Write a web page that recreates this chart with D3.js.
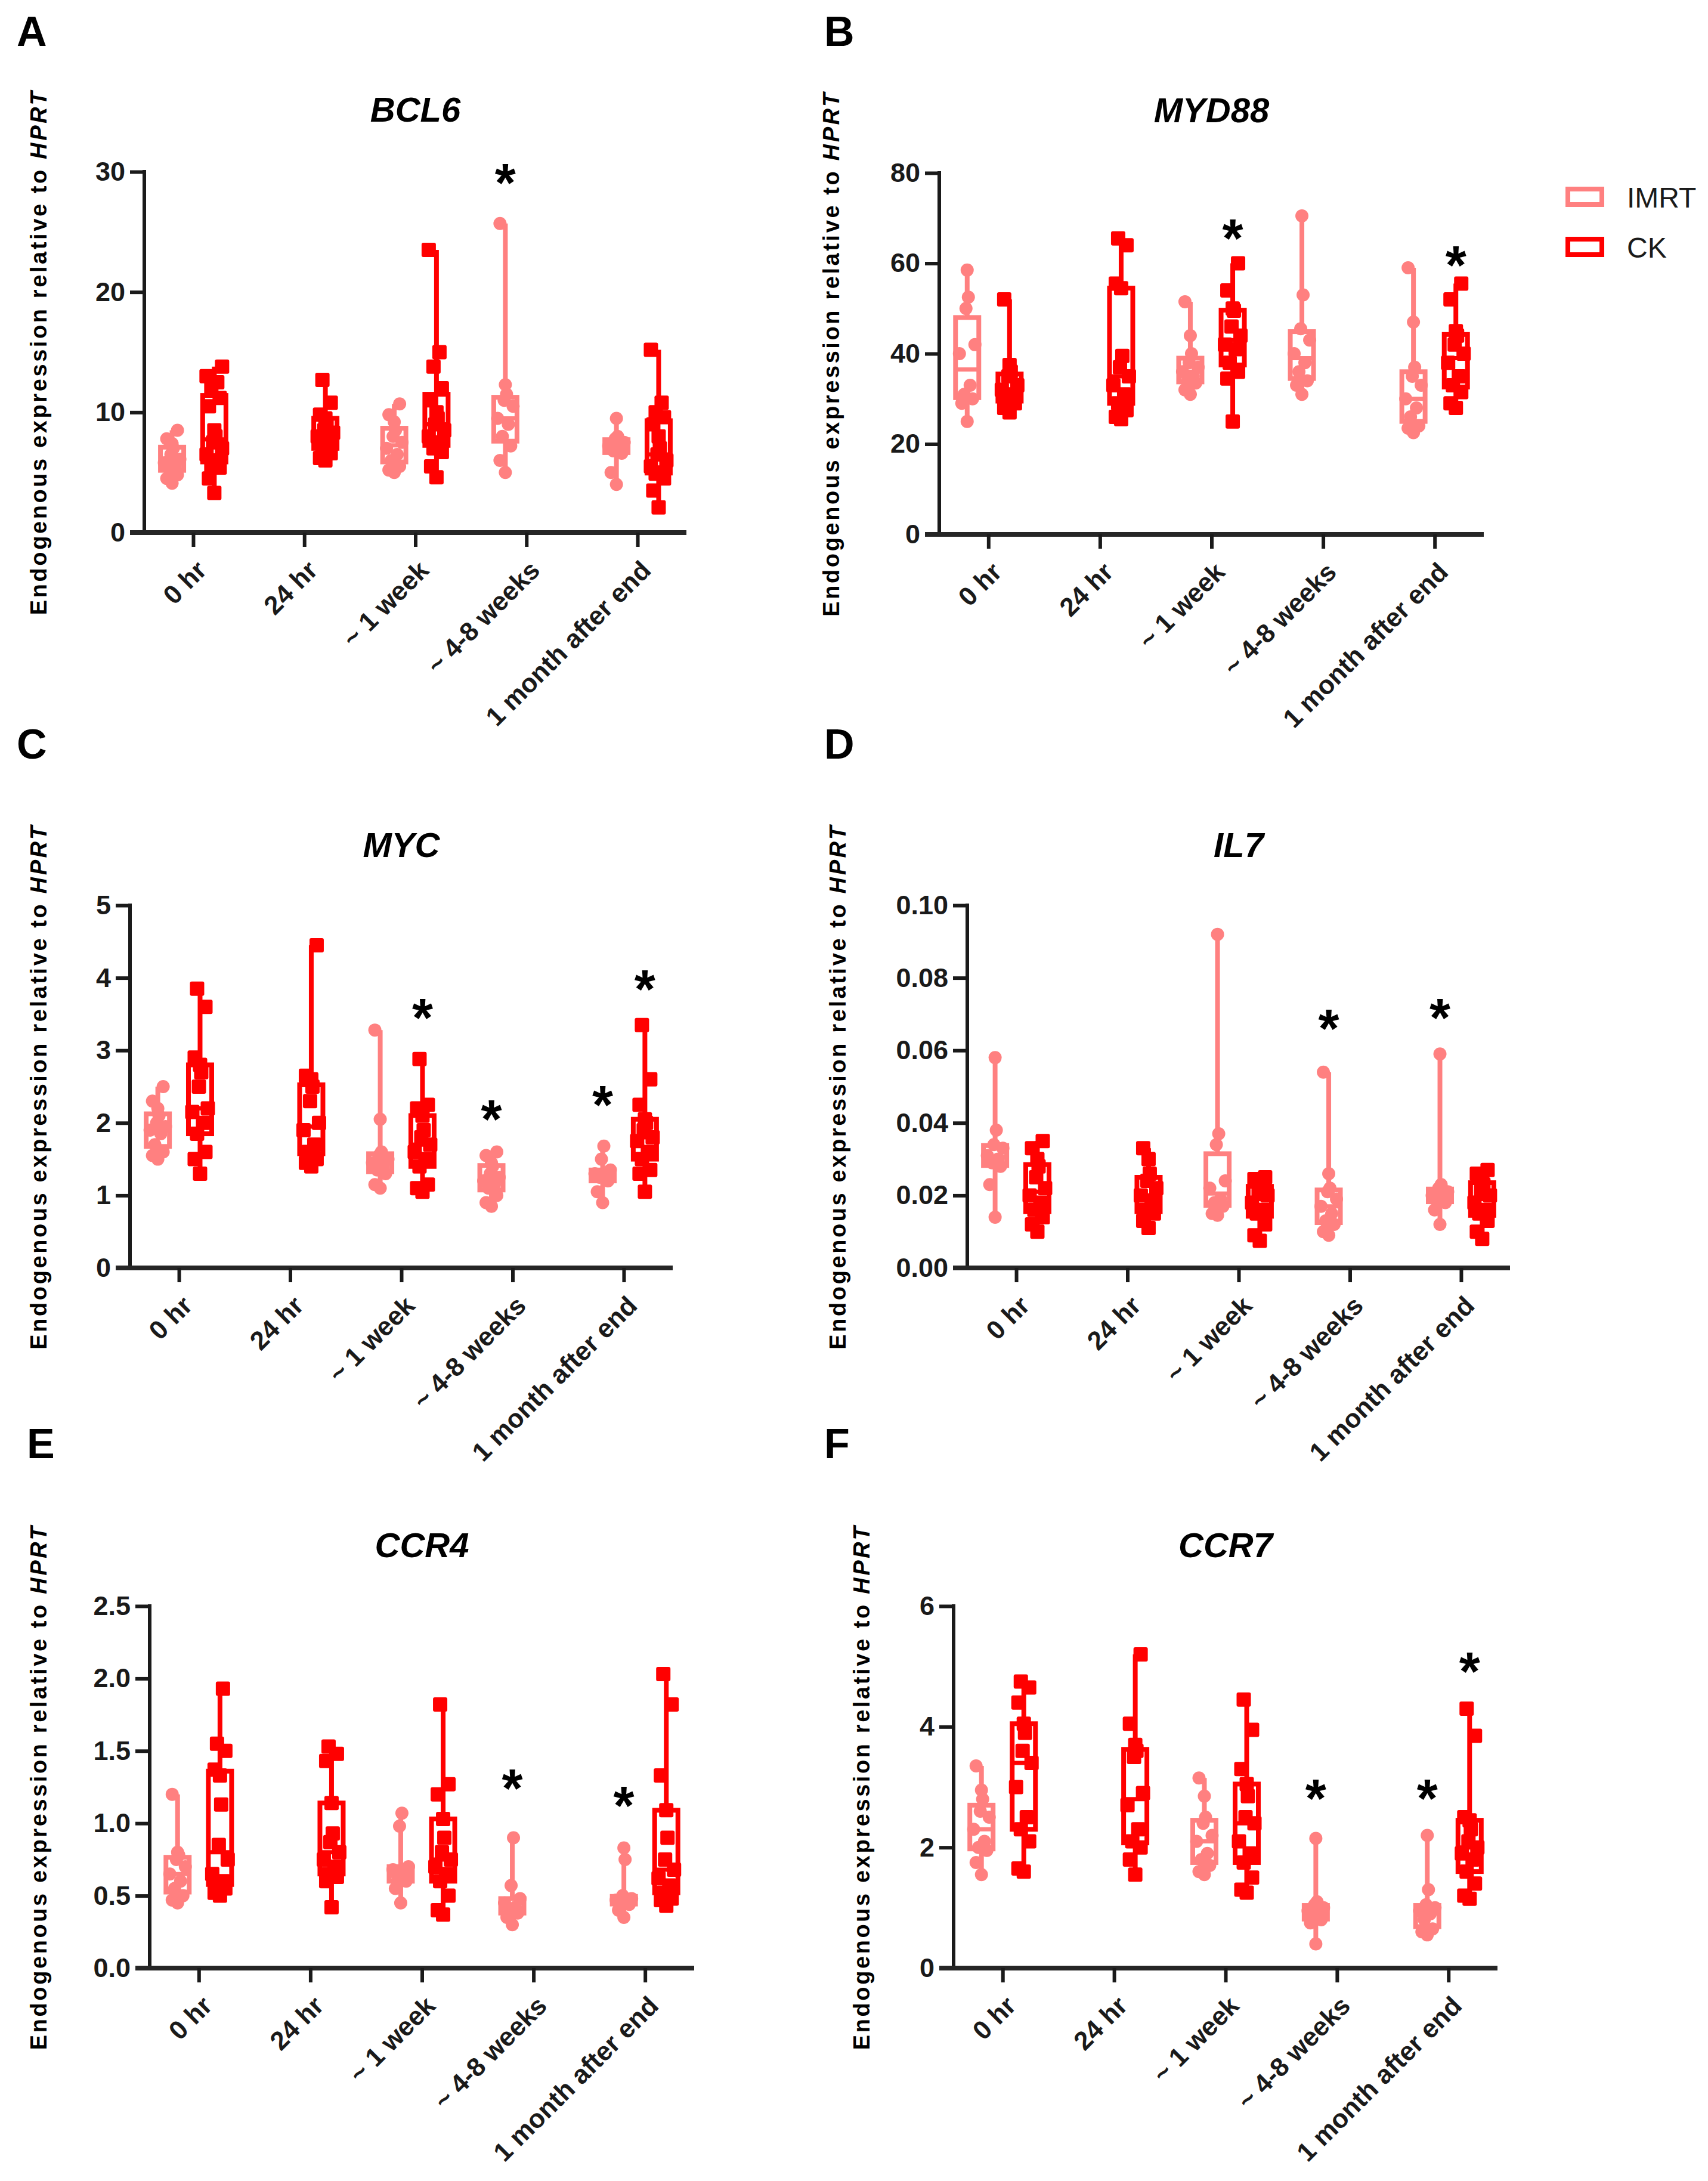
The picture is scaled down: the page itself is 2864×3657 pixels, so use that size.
<!DOCTYPE html>
<html>
<head>
<meta charset="utf-8">
<script src="https://cdn.jsdelivr.net/npm/d3@7"></script>
<style>
  body { margin: 0; background: #fff; }
  text { font-family: "Liberation Sans", Arial, sans-serif; }
</style>
</head>
<body>
<div class="chart"></div>
<script>
let width = 2864;
let height = 3657;

// categories and groups
let timepoints = ['0 hr', '24 hr', '~ 1 week', '~ 4-8 weeks', '1 month after end'];
let groups = ['IMRT', 'CK'];
let groupColors = ['#ff8080', '#ff0000'];
let genes = ['BCL6', 'MYD88', 'MYC', 'IL7', 'CCR4', 'CCR7'];
let panelLetters = ['A', 'B', 'C', 'D', 'E', 'F'];

// y ticks per gene
let bcl6Ticks = [0, 10, 20, 30];
let myd88Ticks = [0, 20, 40, 60, 80];
let mycTicks = [0, 1, 2, 3, 4, 5];
let il7Ticks = [0, 0.02, 0.04, 0.06, 0.08, 0.10];
let ccr4Ticks = [0, 0.5, 1.0, 1.5, 2.0, 2.5];
let ccr7Ticks = [0, 2, 4, 6];

// values per timepoint (null = not measured)
let bcl6IMRT = [
  [8.5, 7.8, 7.4, 7.0, 6.5, 6.1, 5.8, 5.5, 5.3, 4.8, 4.5, 4.1],
  null,
  [10.7, 9.8, 9.2, 8.5, 8.0, 7.5, 7.0, 6.5, 6.0, 5.5, 5.2, 5.0],
  [25.7, 12.3, 11.5, 11.0, 10.5, 9.5, 9.0, 8.0, 7.2, 6.0, 5.0],
  [9.5, 8.0, 7.8, 7.5, 7.2, 7.0, 6.8, 6.6, 5.0, 4.0]
];
let bcl6CK = [
  [13.8, 13.0, 12.5, 12.0, 11.2, 10.5, 8.5, 8.0, 7.5, 7.0, 6.5, 6.0, 5.5, 5.4, 4.5, 3.3],
  [12.7, 10.8, 9.8, 9.5, 9.0, 8.5, 8.3, 8.0, 7.5, 7.0, 6.6, 6.2, 6.0],
  [23.5, 15.0, 13.8, 12.0, 11.0, 10.0, 9.5, 9.0, 8.5, 8.0, 7.5, 7.0, 6.7, 5.5, 4.6],
  null,
  [15.2, 10.8, 10.0, 9.6, 9.0, 8.0, 7.0, 6.5, 6.0, 5.5, 5.0, 4.9, 4.5, 3.5, 2.1]
];
let myd88IMRT = [
  [58.5, 52.5, 50, 42, 40, 33, 31, 30, 29, 25],
  null,
  [51.5, 44, 40, 38, 37, 36, 35, 34, 33.5, 32, 31],
  [70.5, 53, 45.5, 43, 40, 38, 36, 34, 33, 31],
  [59, 47, 37, 35, 33, 30, 28, 26, 24, 23.5, 22.5]
];
let myd88CK = [
  [52, 37.5, 36, 35, 33, 32, 31, 30, 29, 28, 27],
  [65.5, 64, 55.5, 54.5, 39.5, 37, 35, 33, 31, 29, 27.5, 26, 25.5],
  [60, 54, 50, 49.5, 46, 44, 42, 41, 38, 36, 34.5, 25],
  null,
  [55.5, 52, 45, 44, 42, 40, 38, 35, 33, 31.5, 29, 28]
];
let mycIMRT = [
  [2.5, 2.3, 2.2, 2.1, 2.0, 1.95, 1.9, 1.85, 1.7, 1.6, 1.55, 1.5],
  null,
  [3.28, 2.05, 1.6, 1.55, 1.5, 1.45, 1.4, 1.35, 1.3, 1.15, 1.1],
  [1.6, 1.55, 1.45, 1.4, 1.3, 1.25, 1.2, 1.15, 1.1, 1.0, 0.9, 0.85],
  [1.68, 1.5, 1.35, 1.3, 1.28, 1.25, 1.2, 1.05, 0.9]
];
let mycCK = [
  [3.85, 3.6, 2.9, 2.8, 2.7, 2.5, 2.2, 2.15, 2.0, 1.85, 1.6, 1.5, 1.3],
  [4.45, 2.65, 2.6, 2.5, 2.3, 2.0, 1.9, 1.7, 1.6, 1.5, 1.45, 1.4],
  [2.88, 2.25, 2.2, 2.1, 1.9, 1.8, 1.7, 1.6, 1.5, 1.4, 1.15, 1.1, 1.05],
  null,
  [3.35, 2.6, 2.25, 2.05, 2.0, 1.9, 1.8, 1.75, 1.6, 1.5, 1.35, 1.3, 1.05]
];
let il7IMRT = [
  [0.058, 0.038, 0.034, 0.033, 0.031, 0.030, 0.029, 0.028, 0.023, 0.014],
  null,
  [0.092, 0.037, 0.034, 0.024, 0.022, 0.019, 0.018, 0.017, 0.015, 0.0145],
  [0.054, 0.026, 0.022, 0.021, 0.019, 0.017, 0.015, 0.013, 0.012, 0.010, 0.009],
  [0.059, 0.023, 0.022, 0.021, 0.020, 0.0195, 0.019, 0.018, 0.016, 0.012]
];
let il7CK = [
  [0.035, 0.033, 0.030, 0.028, 0.025, 0.022, 0.020, 0.018, 0.016, 0.014, 0.012, 0.010],
  [0.033, 0.030, 0.026, 0.024, 0.022, 0.020, 0.018, 0.016, 0.015, 0.013, 0.011],
  [0.025, 0.0245, 0.024, 0.022, 0.021, 0.020, 0.018, 0.016, 0.015, 0.012, 0.009, 0.0075],
  null,
  [0.027, 0.026, 0.025, 0.023, 0.021, 0.020, 0.018, 0.016, 0.015, 0.013, 0.010, 0.008]
];
let ccr4IMRT = [
  [1.2, 0.8, 0.78, 0.75, 0.7, 0.65, 0.6, 0.55, 0.5, 0.47, 0.45],
  null,
  [1.07, 0.98, 0.7, 0.68, 0.65, 0.63, 0.6, 0.55, 0.45],
  [0.9, 0.57, 0.48, 0.45, 0.42, 0.4, 0.38, 0.35, 0.3],
  [0.83, 0.75, 0.5, 0.48, 0.47, 0.46, 0.45, 0.44, 0.4, 0.35]
];
let ccr4CK = [
  [1.93, 1.55, 1.5, 1.37, 1.33, 1.13, 0.85, 0.75, 0.65, 0.6, 0.57, 0.55, 0.52, 0.5],
  [1.53, 1.48, 1.43, 1.14, 0.93, 0.87, 0.8, 0.75, 0.7, 0.65, 0.63, 0.6, 0.42],
  [1.82, 1.27, 1.2, 1.03, 0.9, 0.8, 0.75, 0.7, 0.65, 0.6, 0.5, 0.4, 0.37],
  null,
  [2.03, 1.82, 1.33, 1.09, 0.9, 0.75, 0.68, 0.62, 0.57, 0.52, 0.48, 0.47, 0.43]
];
let ccr7IMRT = [
  [3.35, 2.95, 2.8, 2.6, 2.5, 2.3, 2.1, 2.0, 1.95, 1.75, 1.55],
  null,
  [3.15, 2.85, 2.5, 2.4, 2.2, 2.1, 1.9, 1.8, 1.7, 1.6, 1.55],
  [2.15, 1.1, 1.05, 1.0, 0.95, 0.9, 0.85, 0.8, 0.75, 0.4],
  [2.2, 1.3, 1.05, 1.0, 0.95, 0.9, 0.8, 0.65, 0.6, 0.55]
];
let ccr7CK = [
  [4.75, 4.65, 4.4, 4.05, 3.9, 3.6, 3.4, 3.0, 2.5, 2.3, 2.1, 1.65, 1.6],
  [5.2, 4.05, 3.7, 3.6, 3.5, 2.9, 2.7, 2.3, 2.1, 2.0, 1.8, 1.55],
  [4.45, 3.95, 3.3, 3.05, 2.85, 2.5, 2.4, 2.1, 1.9, 1.75, 1.5, 1.3, 1.25],
  null,
  [4.3, 3.85, 2.5, 2.45, 2.3, 2.1, 2.0, 1.9, 1.8, 1.6, 1.4, 1.2, 1.15]
];

// significance stars: [timepoint index, group index, y value]
let bcl6Stars = [[3, 0, 30]];
let myd88Stars = [[2, 1, 68], [4, 1, 62]];
let mycStars = [[2, 1, 3.6], [3, 0, 2.2], [4, 0, 2.4], [4, 1, 4.0]];
let il7Stars = [[3, 0, 0.069], [4, 0, 0.072]];
let ccr4Stars = [[3, 0, 1.32], [4, 0, 1.2]];
let ccr7Stars = [[3, 0, 3.0], [4, 0, 3.0], [4, 1, 5.1]];

// panel table built from the arrays above
let panels = [
  {gene: genes[0], ticks: bcl6Ticks, fmt: d3.format('d'), series: [bcl6IMRT, bcl6CK], stars: bcl6Stars},
  {gene: genes[1], ticks: myd88Ticks, fmt: d3.format('d'), series: [myd88IMRT, myd88CK], stars: myd88Stars},
  {gene: genes[2], ticks: mycTicks, fmt: d3.format('d'), series: [mycIMRT, mycCK], stars: mycStars},
  {gene: genes[3], ticks: il7Ticks, fmt: d3.format('.2f'), series: [il7IMRT, il7CK], stars: il7Stars},
  {gene: genes[4], ticks: ccr4Ticks, fmt: d3.format('.1f'), series: [ccr4IMRT, ccr4CK], stars: ccr4Stars},
  {gene: genes[5], ticks: ccr7Ticks, fmt: d3.format('d'), series: [ccr7IMRT, ccr7CK], stars: ccr7Stars}
];

// layout of each panel (pixels)
let layout = [
  {x0: 242, x1: 1151, top: 288, bottom: 893, letterX: 28, letterY: 77, titleY: 204, yTitleX: 65},
  {x0: 1575, x1: 2488, top: 290, bottom: 896, letterX: 1382, letterY: 77, titleY: 205, yTitleX: 1394},
  {x0: 218, x1: 1128, top: 1518, bottom: 2126, letterX: 28, letterY: 1272, titleY: 1437, yTitleX: 65},
  {x0: 1622, x1: 2532, top: 1518, bottom: 2126, letterX: 1382, letterY: 1272, titleY: 1437, yTitleX: 1405},
  {x0: 251, x1: 1164, top: 2693, bottom: 3300, letterX: 45, letterY: 2445, titleY: 2611, yTitleX: 65},
  {x0: 1599, x1: 2511, top: 2693, bottom: 3300, letterX: 1382, letterY: 2445, titleY: 2611, yTitleX: 1445}
];

let svg = d3.select('.chart')
  .append('svg')
  .attr('width', width)
  .attr('height', height);
svg.append('rect').attr('width', width).attr('height', height).attr('fill', '#fff');

let jitter = [0, -9, 9, -5, 5, -13, 13, -2, 2];

panels.forEach((p, pi) => {
  let L = layout[pi];
  let g = svg.append('g').attr('class', 'panel');

  let yScale = d3.scaleLinear()
    .domain([0, p.ticks[p.ticks.length - 1]])
    .range([L.bottom, L.top]);
  let xScale = d3.scalePoint()
    .domain(timepoints)
    .range([L.x0, L.x1])
    .padding(0.44);
  let step = xScale.step();
  let offs = [-0.19 * step, 0.19 * step];
  let boxW = 39;

  // panel letter
  g.append('text')
    .attr('x', L.letterX)
    .attr('y', L.letterY)
    .style('font-size', '70px')
    .style('font-weight', 'bold')
    .text(panelLetters[pi]);

  // gene title
  g.append('text')
    .attr('x', (L.x0 + L.x1) / 2)
    .attr('y', L.titleY)
    .attr('text-anchor', 'middle')
    .style('font-size', '58px')
    .style('font-weight', 'bold')
    .style('font-style', 'italic')
    .text(p.gene);

  // y axis title
  let yt = g.append('text')
    .attr('transform', 'translate(' + (L.yTitleX + 13) + ',' + ((L.top + L.bottom) / 2) + ') rotate(-90)')
    .attr('text-anchor', 'middle')
    .style('font-size', '38px')
    .style('font-weight', 'bold')
    .style('letter-spacing', '3.6px');
  yt.append('tspan').text('Endogenous expression relative to ');
  yt.append('tspan').style('font-style', 'italic').text('HPRT');

  // y axis
  let yAxis = d3.axisLeft(yScale)
    .tickValues(p.ticks)
    .tickFormat(p.fmt)
    .tickSize(24)
    .tickSizeOuter(0)
    .tickPadding(8);
  let ya = g.append('g')
    .attr('transform', 'translate(' + L.x0 + ',0)')
    .call(yAxis);
  ya.select('.domain').attr('stroke', '#1a1a1a').attr('stroke-width', 6)
    .attr('d', 'M0,' + (L.top - 3) + 'V' + L.bottom);
  ya.selectAll('.tick line').attr('stroke', '#1a1a1a').attr('stroke-width', 6);
  ya.selectAll('.tick text')
    .attr('fill', '#1a1a1a')
    .style('font-size', '45px')
    .style('font-weight', 'bold')
    .style('font-family', '"Liberation Sans", Arial, sans-serif');

  // x axis
  let xAxis = d3.axisBottom(xScale)
    .tickSize(24)
    .tickSizeOuter(0)
    .tickFormat('');
  let xa = g.append('g')
    .attr('transform', 'translate(0,' + L.bottom + ')')
    .call(xAxis);
  xa.select('.domain').attr('stroke', '#262626').attr('stroke-width', 8)
    .attr('d', 'M' + (L.x0 - 24) + ',0H' + L.x1);
  xa.selectAll('.tick line').attr('stroke', '#1a1a1a').attr('stroke-width', 6);

  g.selectAll('.xlabel')
    .data(timepoints)
    .enter()
    .append('text')
    .attr('class', 'xlabel')
    .attr('transform', d => 'translate(' + (xScale(d) + 25) + ',' + (L.bottom + 66) + ') rotate(-45)')
    .attr('text-anchor', 'end')
    .style('font-size', '44px')
    .style('font-weight', 'bold')
    .attr('fill', '#1a1a1a')
    .text(d => d);

  // boxes
  p.series.forEach((ser, gi) => {
    let color = groupColors[gi];
    ser.forEach((vals, ti) => {
      if (!vals) return;
      let cx = xScale(timepoints[ti]) + offs[gi];
      let sorted = vals.slice().sort(d3.ascending);
      let q1 = d3.quantile(sorted, 0.25);
      let med = d3.quantile(sorted, 0.5);
      let q3 = d3.quantile(sorted, 0.75);
      let bg = g.append('g').attr('class', 'box');
      bg.append('line')
        .attr('x1', cx).attr('x2', cx)
        .attr('y1', yScale(sorted[sorted.length - 1]))
        .attr('y2', yScale(sorted[0]))
        .attr('stroke', color).attr('stroke-width', 8);
      bg.append('rect')
        .attr('x', cx - boxW / 2)
        .attr('width', boxW)
        .attr('y', yScale(q3))
        .attr('height', yScale(q1) - yScale(q3))
        .attr('fill', '#fff')
        .attr('stroke', color).attr('stroke-width', 8);
      bg.append('line')
        .attr('x1', cx - boxW / 2).attr('x2', cx + boxW / 2)
        .attr('y1', yScale(med)).attr('y2', yScale(med))
        .attr('stroke', color).attr('stroke-width', 7);
      let pts = bg.selectAll('.pt')
        .data(sorted)
        .enter();
      if (gi === 0) {
        pts.append('circle')
          .attr('class', 'pt')
          .attr('cx', (d, i) => cx + jitter[i % jitter.length])
          .attr('cy', d => yScale(d))
          .attr('r', 11)
          .attr('fill', color);
      } else {
        pts.append('rect')
          .attr('class', 'pt')
          .attr('x', (d, i) => cx + jitter[i % jitter.length] - 12)
          .attr('y', d => yScale(d) - 12)
          .attr('width', 24)
          .attr('height', 24)
          .attr('rx', 3)
          .attr('fill', color);
      }
    });
  });

  // stars
  g.selectAll('.star')
    .data(p.stars)
    .enter()
    .append('text')
    .attr('class', 'star')
    .attr('x', d => xScale(timepoints[d[0]]) + offs[d[1]])
    .attr('y', d => yScale(d[2]) + 50)
    .attr('text-anchor', 'middle')
    .style('font-size', '90px')
    .style('font-weight', 'bold')
    .text('*');
});

// legend
let legend = svg.append('g').attr('id', 'legend');
let items = legend.selectAll('.legend-item')
  .data(groups)
  .enter()
  .append('g')
  .attr('class', 'legend-item')
  .attr('transform', (d, i) => 'translate(2629,' + (317 + i * 84) + ')');
items.append('rect')
  .attr('width', 57)
  .attr('height', 26)
  .attr('fill', '#fff')
  .attr('stroke', (d, i) => groupColors[i])
  .attr('stroke-width', 8);
items.append('text')
  .attr('x', 99)
  .attr('y', 31)
  .style('font-size', '48px')
  .attr('fill', '#1a1a1a')
  .text(d => d);
</script>
</body>
</html>
